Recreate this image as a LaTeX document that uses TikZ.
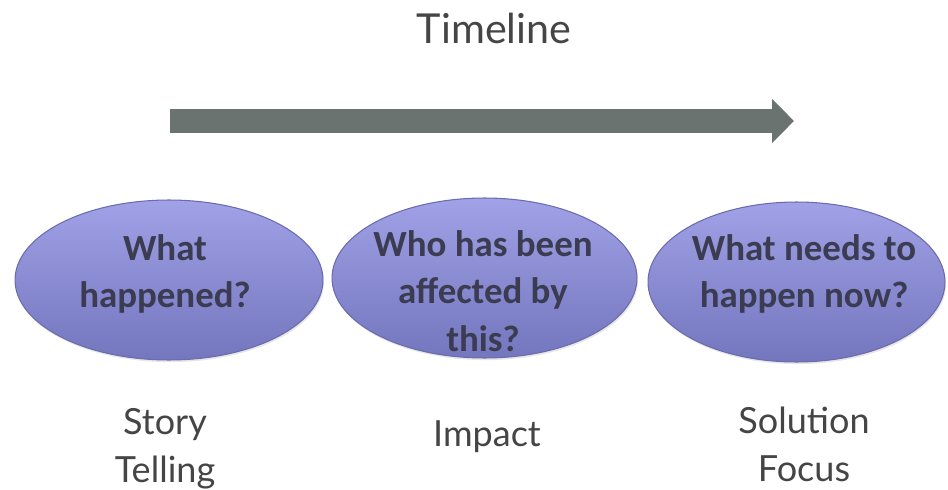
\documentclass[tikz,border=0pt]{standalone}
\usepackage{fontspec}
\setmainfont{Lato}
\newfontfamily\bubblefont{Carlito}
\usetikzlibrary{shapes.geometric, arrows.meta, positioning, shadows}
\definecolor{arrowGrey}{HTML}{6B7370}
\definecolor{bubbleTop}{HTML}{A0A1E6}
\definecolor{bubbleBot}{HTML}{7476BE}
\definecolor{bubbleEdge}{HTML}{6A6CAE}
\definecolor{bubbleText}{HTML}{3B3C52}
\definecolor{labelGrey}{HTML}{454545}

\begin{document}
\begin{tikzpicture}[x=0.02cm, y=-0.02cm,
    bubble/.style={ellipse, draw=bubbleEdge, line width=0.6pt, top color=bubbleTop, bottom color=bubbleBot, inner sep=0pt,
        minimum height=3.2cm, drop shadow={opacity=0.2, shadow xshift=0.6pt, shadow yshift=-1.2pt}},
    bubbletext/.style={align=center, text=bubbleText, font=\bubblefont\bfseries\fontsize{21}{27}\selectfont},
    steplabel/.style={align=center, text=labelGrey, font=\fontsize{20.5}{27.3}\selectfont}]
        \useasboundingbox (0,0) rectangle (948,490);

        % Title
        \node[text=labelGrey, font=\fontsize{23.5}{28}\selectfont] (title) at (494,28) {Timeline};

        % Timeline arrow
        \coordinate (tlStart) at (170,121);
        \coordinate (tlEnd) at (794,121);
        \draw[arrowGrey, line width=0.48cm, -{Triangle[length=0.44cm, width=0.86cm]}] (tlStart) -- (tlEnd);

        % Bubbles
        \node[bubble, minimum width=6.16cm] (happened) at (169,280) {};
        \node[bubble, minimum width=6.1cm] (affected) at (484.5,278) {};
        \node[bubble, minimum width=5.94cm] (nextStep) at (796.5,282) {};

        % Questions inside
        \node[bubbletext] (happenedText) at (165,274) {What\\happened?};
        \node[bubbletext] (affectedText) at (483,291) {Who has been\\affected by\\this?};
        \node[bubbletext] (nextStepText) at (804,274) {What needs to\\happen now?};

        % Labels below
        \node[steplabel] (story) at (165,449) {Story\\Telling};
        \node[steplabel] (impact) at (487,437) {Impact};
        \node[steplabel] (solution) at (804,444) {Solution\\Focus};
    \end{tikzpicture}
\end{document}
